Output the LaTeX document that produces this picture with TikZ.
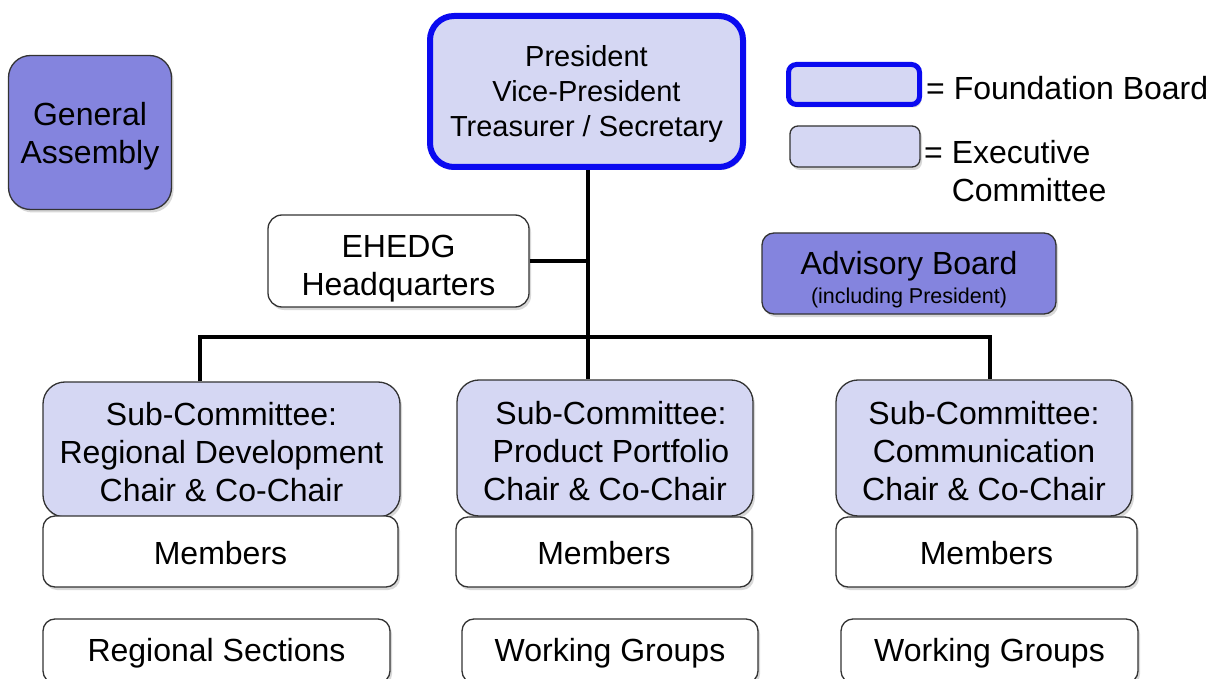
\documentclass[tikz,border=0pt]{standalone}
\usepackage{fontspec}
\setmainfont{Liberation Sans}
\usetikzlibrary{shadows}
\definecolor{lav}{HTML}{D5D7F3}
\definecolor{purp}{HTML}{8484DE}
\definecolor{fb}{HTML}{0A0AF0}
\definecolor{edgec}{HTML}{333333}
\newcommand\mystrut[1]{\rule{0pt}{#1}}
\begin{document}
\begin{tikzpicture}[x=1pt,y=-1pt,
  box/.style={draw=edgec, line width=1.3pt, rounded corners=14pt, align=center, inner sep=0pt,
    font=\fontsize{32}{38}\selectfont,
    drop shadow={opacity=0.3, shadow xshift=2pt, shadow yshift=-3pt}},
  lavbox/.style={box, fill=lav},
  purpbox/.style={box, fill=purp},
  whitebox/.style={box, fill=white},
  fbbox/.style={lavbox, draw=fb, line width=6pt},
  conn/.style={line width=4pt, black},
  legtext/.style={inner sep=0pt, align=left, font=\fontsize{32}{38}\selectfont}
]
\useasboundingbox (0,0) rectangle (1224,679);
\clip (0,0) rectangle (1224,679);
\fill[white] (0,0) rectangle (1224,679);

% top row
\node[purpbox, rounded corners=22pt, minimum width=163pt, minimum height=154pt] (ga) at (90,132.5) {\mystrut{31pt}General\\Assembly};
\node[fbbox, rounded corners=24pt, minimum width=313pt, minimum height=151pt,
      font=\fontsize{29}{35}\selectfont] (pres) at (586.5,91.5) {\mystrut{26pt}President\\Vice-President\\Treasurer / Secretary};
\node[whitebox, minimum width=261pt, minimum height=92pt] (hq) at (398.5,261) {\mystrut{37pt}EHEDG\\Headquarters};

% legend
\node[fbbox, line width=5pt, rounded corners=8pt, minimum width=131pt, minimum height=40pt] (legF) at (854,84.5) {};
\node[legtext, anchor=west] (legFt) at (926,88) {= Foundation Board};
\node[lavbox, rounded corners=8pt, minimum width=130pt, minimum height=41pt] (legE) at (855,146.5) {};
\node[legtext, anchor=north west] (legEt) at (924,140) {= Executive\\\hphantom{=~}Committee};

% advisory board
\node[purpbox, rounded corners=12pt, minimum width=294pt, minimum height=81pt] (adv) at (909,273.5)
  {\mystrut{36pt}Advisory Board\\[-9pt]{\fontsize{21.5}{26}\selectfont (including President)}};

% sub-committees
\node[lavbox, rounded corners=22pt, minimum width=357pt, minimum height=135pt] (subL) at (221.5,449.5) {\mystrut{29pt}Sub-Committee:\\Regional Development\\Chair \& Co-Chair};
\node[lavbox, rounded corners=22pt, minimum width=296pt, minimum height=136pt] (subM) at (605,448) {\mystrut{29pt}\hspace{12pt}Sub-Committee:\\\hspace{12pt}Product Portfolio\\Chair \& Co-Chair};
\node[lavbox, rounded corners=22pt, minimum width=296pt, minimum height=136pt] (subR) at (984,448) {\mystrut{29pt}Sub-Committee:\\Communication\\Chair \& Co-Chair};

% members
\node[whitebox, rounded corners=12pt, minimum width=355pt, minimum height=71pt] (memL) at (220.5,551.5) {\mystrut{26pt}Members};
\node[whitebox, rounded corners=12pt, minimum width=296pt, minimum height=70pt] (memM) at (604,552) {\mystrut{26pt}Members};
\node[whitebox, rounded corners=12pt, minimum width=301pt, minimum height=70pt] (memR) at (986.5,552) {\mystrut{26pt}Members};

% bottom row
\node[whitebox, rounded corners=12pt, minimum width=347pt, minimum height=64pt] (botL) at (216.5,651) {\mystrut{28pt}Regional Sections};
\node[whitebox, rounded corners=12pt, minimum width=296pt, minimum height=64pt] (botM) at (610,651) {\mystrut{28pt}Working Groups};
\node[whitebox, rounded corners=12pt, minimum width=297pt, minimum height=64pt] (botR) at (989.5,651) {\mystrut{28pt}Working Groups};

% connectors
\coordinate (bl) at (200,337);
\coordinate (br) at (990,337);
\coordinate (trunk) at (588,0);
\draw[conn] (trunk |- pres.south) -- (trunk |- subM.north);
\draw[conn] (hq.east) -- (hq.east -| trunk);
\draw[conn] (bl |- subL.north) -- (bl) -- (br) -- (br |- subR.north);
\end{tikzpicture}
\end{document}
